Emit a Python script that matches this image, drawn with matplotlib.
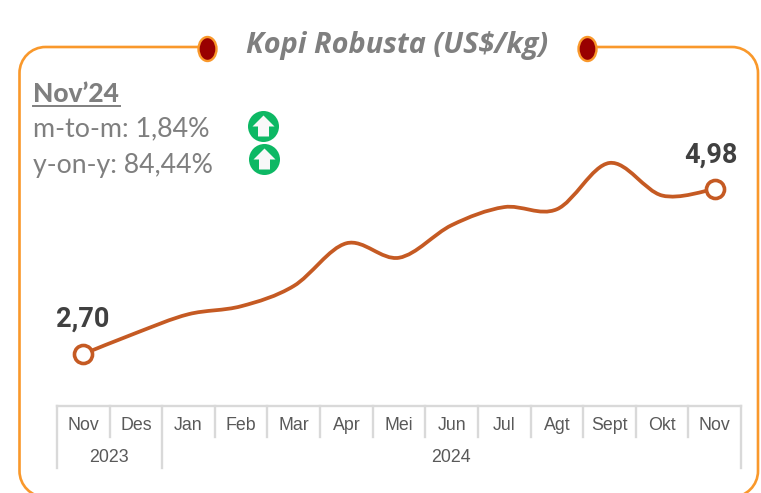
import matplotlib
matplotlib.use("Agg")
import matplotlib.pyplot as plt
import numpy as np
from matplotlib.path import Path
from matplotlib.patches import PathPatch, Ellipse, Circle, Polygon

months = ["Nov", "Des", "Jan", "Feb", "Mar", "Apr", "Mei", "Jun", "Jul", "Agt", "Sept", "Okt", "Nov"]
values = [2.70, 2.99, 3.25, 3.36, 3.64, 4.23, 4.03, 4.48, 4.73, 4.70, 5.34, 4.89, 4.98]
year_labels = ["2023", "2024"]
year_spans = [(0, 2), (2, 13)]
title = "Kopi Robusta (US$/kg)"
info_head = "Nov\u201924"
info_lines = ["m-to-m: 1,84%", "y-on-y: 84,44%"]

W, H = 761, 493
ORANGE = "#F9982B"
LINE = "#C55A23"
GREY = "#7F7F7F"
GRID = "#D9D9D9"

fig = plt.figure(figsize=(W / 100, H / 100), dpi=100, facecolor="white")

# pixel-space overlay for frame and annotations
ov = fig.add_axes([0, 0, 1, 1], zorder=3)
ov.set_xlim(0, W)
ov.set_ylim(H, 0)
ov.axis("off")
ov.patch.set_alpha(0)

# main chart axes
L, R, T, B = 57, 741, 60, 406
ax = fig.add_axes([L / W, 1 - B / H, (R - L) / W, (B - T) / H], zorder=2)
ax.set_xlim(-0.5, 12.5)
yb = 2.70 - (B - 354) / 72.37
yt = 2.70 + (354 - T) / 72.37
ax.set_ylim(yb, yt)
ax.axis("off")

# smooth line (Excel style bezier)
x = np.arange(len(values), dtype=float)
y = np.array(values)
verts = [(x[0], y[0])]
codes = [Path.MOVETO]
for i in range(len(x) - 1):
    p0 = (x[max(i - 1, 0)], y[max(i - 1, 0)])
    p1 = (x[i], y[i])
    p2 = (x[i + 1], y[i + 1])
    p3 = (x[min(i + 2, len(x) - 1)], y[min(i + 2, len(x) - 1)])
    c1 = (p1[0] + (p2[0] - p0[0]) / 6, p1[1] + (p2[1] - p0[1]) / 6)
    c2 = (p2[0] - (p3[0] - p1[0]) / 6, p2[1] - (p3[1] - p1[1]) / 6)
    verts += [c1, c2, p2]
    codes += [Path.CURVE4] * 3
ax.add_patch(PathPatch(Path(verts, codes), fill=False, edgecolor=LINE, lw=2.7, capstyle="round", clip_on=False))
ax.plot([x[0], x[-1]], [y[0], y[-1]], ls="none", marker="o", ms=13, mfc="white", mec=LINE, mew=2.6, clip_on=False, zorder=4)

for idx, (dx, dy) in ((0, (-0.5, 25)), (-1, (-2.5, 24))):
    ax.annotate(f"{values[idx]:.2f}".replace(".", ","), (x[idx], y[idx]), xytext=(dx, dy),
                textcoords="offset points", ha="center", va="center",
                fontsize=19.5, fontweight="bold", family="Roboto", color="#404040")

# category axis (multi level)
tr = ax.get_xaxis_transform()
ax.plot([-0.5, 12.5], [0, 0], transform=tr, color=GRID, lw=1.7, clip_on=False)
to_axes = lambda px: (B - px) / (B - T)
for k in range(14):
    long_tick = k in (0, 2, 13)
    ax.plot([k - 0.5, k - 0.5], [0, to_axes(468 if long_tick else 437)], transform=tr,
            color=GRID, lw=1.7, clip_on=False)
for k, m in enumerate(months):
    ax.text(k, to_axes(426), m, transform=tr, ha="center", va="center", fontsize=12.8,
            family="Liberation Sans", color="#595959")
for lab, (a, b) in zip(year_labels, year_spans):
    ax.text((a + b - 1) / 2 - 0.02, to_axes(457), lab, transform=tr, ha="center", va="center", fontsize=12.8,
            family="Liberation Sans", color="#595959")

# rounded frame
r = 26
fx0, fx1, fy0, fy1 = 19.5, 758, 47, 497
k = 0.5523 * r
fverts = [(207, fy0), (fx0 + r, fy0), (fx0 + r - k, fy0), (fx0, fy0 + r - k), (fx0, fy0 + r),
          (fx0, fy1 - r), (fx0, fy1 - r + k), (fx0 + r - k, fy1), (fx0 + r, fy1),
          (fx1 - r, fy1), (fx1 - r + k, fy1), (fx1, fy1 - r + k), (fx1, fy1 - r),
          (fx1, fy0 + r), (fx1, fy0 + r - k), (fx1 - r + k, fy0), (fx1 - r, fy0), (588, fy0)]
fcodes = [Path.MOVETO, Path.LINETO, Path.CURVE4, Path.CURVE4, Path.CURVE4,
          Path.LINETO, Path.CURVE4, Path.CURVE4, Path.CURVE4,
          Path.LINETO, Path.CURVE4, Path.CURVE4, Path.CURVE4,
          Path.LINETO, Path.CURVE4, Path.CURVE4, Path.CURVE4, Path.LINETO]
fpath = Path(fverts, fcodes)
pts = np.vstack([p for p in fpath.to_polygons(closed_only=False)])
ov.plot(pts[:, 0], pts[:, 1], color=ORANGE, lw=1.9, clip_on=True, solid_joinstyle="round")
for cx in (207.5, 587.5):
    ov.add_patch(Ellipse((cx, 49), 18, 24, facecolor="#990000", edgecolor=ORANGE, lw=1.7, zorder=5))

ov.text(397, 46, title, ha="center", va="center", fontsize=20.8, fontweight="bold", style="italic",
        family="Open Sans", color=GREY)
ov.text(33, 94, info_head, ha="left", va="center", fontsize=19, fontweight=900, family="Lato", color=GREY)
ov.plot([33, 120], [106, 106], color=GREY, lw=1.4)
ov.text(33, 129, info_lines[0], ha="left", va="center", fontsize=19.4, family="Lato", color=GREY)
ov.text(33, 165, info_lines[1], ha="left", va="center", fontsize=19.2, family="Lato", color=GREY)

for cx, cy in ((263.5, 126.5), (264.5, 159.5)):
    ov.add_patch(Circle((cx, cy), 15.5, facecolor="#0DB864", edgecolor="none", zorder=5))
    ov.add_patch(Polygon([(cx, cy - 11), (cx + 11, cy), (cx + 5.5, cy), (cx + 5.5, cy + 10),
                          (cx - 5.5, cy + 10), (cx - 5.5, cy), (cx - 11, cy)],
                         closed=True, facecolor="#F8F8F8", edgecolor="none", zorder=6))

fig.savefig("out.png", dpi=100)
